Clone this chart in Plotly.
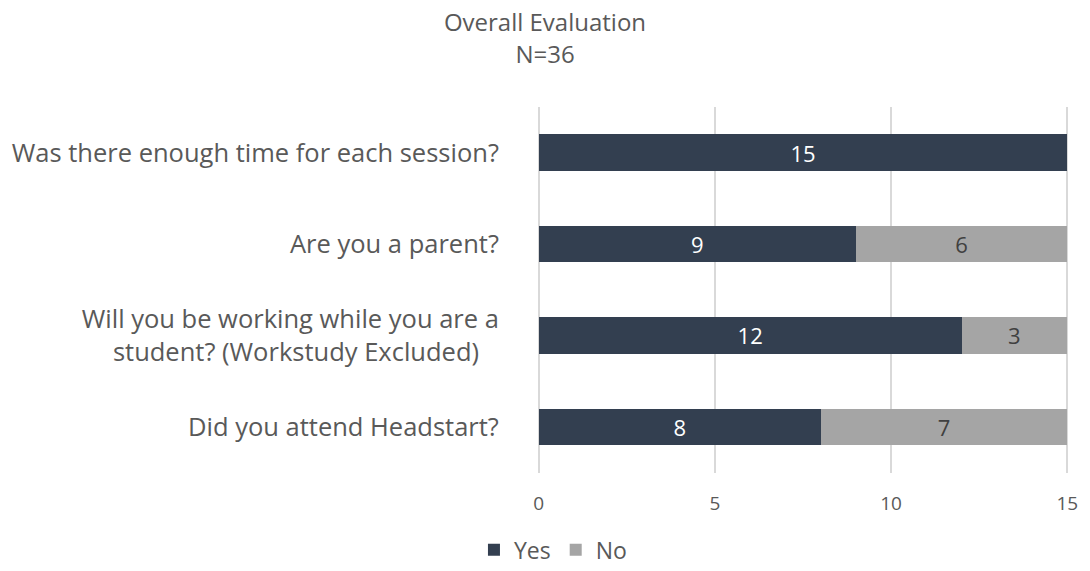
import plotly.graph_objects as go

categories = [
    "Was there enough time for each session?",
    "Are you a parent?",
    "Will you be working while you are a<br>student? (Workstudy Excluded)\u00a0\u00a0\u00a0",
    "Did you attend Headstart?",
]
yes_values = [15, 9, 12, 8]
no_values = [0, 6, 3, 7]
x_ticks = [0, 5, 10, 15]

FONT = "Open Sans"

def labels(vals):
    return [str(v) if v else "" for v in vals]

fig = go.Figure()
fig.add_trace(go.Bar(
    y=categories, x=yes_values, name="Yes", orientation="h",
    marker=dict(color="#333F50", line=dict(width=0)),
    text=labels(yes_values), textposition="inside", insidetextanchor="middle",
    textangle=0, constraintext="none",
    textfont=dict(color="white", size=22, family=FONT),
    width=0.4,
))
fig.add_trace(go.Bar(
    y=categories, x=no_values, name="No", orientation="h",
    marker=dict(color="#A5A5A5", line=dict(width=0)),
    text=labels(no_values), textposition="inside", insidetextanchor="middle",
    textangle=0, constraintext="none",
    textfont=dict(color="#404040", size=22, family=FONT),
    width=0.4,
))

fig.update_layout(
    barmode="stack",
    width=1090, height=571,
    margin=dict(l=536, r=15, t=107, b=97),
    paper_bgcolor="white", plot_bgcolor="white",
    font=dict(family=FONT, color="#595959"),
    title=dict(text="Overall Evaluation<br>N=36", x=0.5, xref="container", xanchor="center",
               y=0.945, yanchor="top", font=dict(size=24, color="#595959", family=FONT)),
    legend=dict(orientation="h", x=0.03, xanchor="center", yref="container", y=0.037,
                yanchor="middle", font=dict(size=23, color="#595959"), traceorder="normal",
                itemwidth=30),
    uniformtext=dict(mode=False),
)
fig.update_xaxes(range=[-0.05, 15.05], tickvals=x_ticks, showgrid=True, gridcolor="#D9D9D9",
                 gridwidth=1.5, zeroline=False, showline=False,
                 tickfont=dict(size=19, color="#595959"), ticks="outside", ticklen=14,
                 tickcolor="rgba(0,0,0,0)")
fig.update_yaxes(autorange="reversed", showgrid=False, zeroline=False, showline=False,
                 tickfont=dict(size=25.5, color="#595959"), ticks="outside", ticklen=32,
                 tickcolor="rgba(0,0,0,0)")

fig.write_html("out.html", config={"displayModeBar": False})

# remove the default page margin so the figure sits at the window's top-left corner
with open("out.html", "r", encoding="utf-8") as f:
    html = f.read()
html = html.replace("<head>", "<head><style>html,body{margin:0;padding:0;overflow:hidden;}</style>", 1)
with open("out.html", "w", encoding="utf-8") as f:
    f.write(html)
